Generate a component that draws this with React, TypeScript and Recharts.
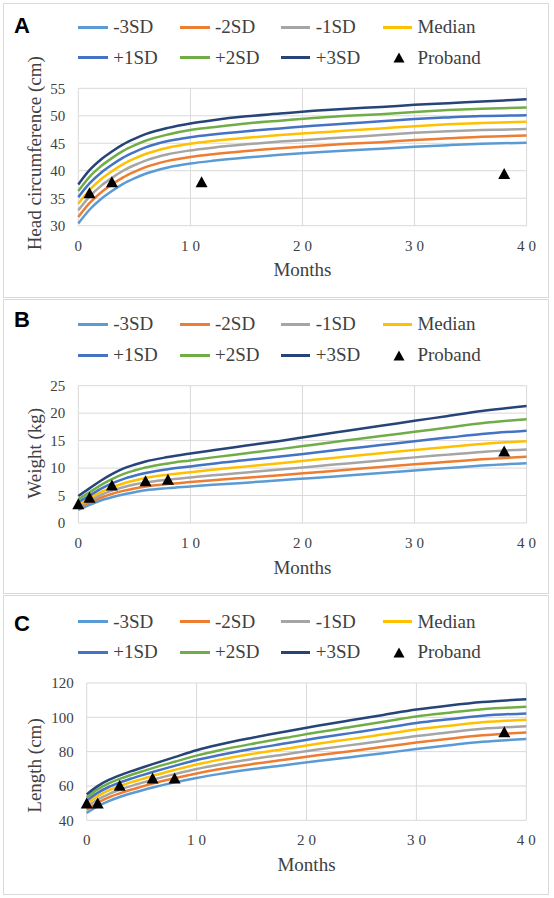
import React from "react";
import {
  ComposedChart,
  Line,
  Scatter,
  XAxis,
  YAxis,
  CartesianGrid,
  Legend,
  Label,
} from "recharts";

const SERIF = '"Liberation Serif", "Times New Roman", serif';
const SANS = '"Liberation Sans", Arial, sans-serif';
const TEXT = "#404040";
const GRID = "#D9D9D9";

// shared x values (months) for the reference curves
const MONTHS = [0, 1, 2, 3, 4, 5, 6, 8, 10, 12, 15, 18, 21, 24, 27, 30, 33, 36, 40];
const X_TICKS = [0, 10, 20, 30, 40];

const SD_NAMES = ["-3SD", "-2SD", "-1SD", "Median", "+1SD", "+2SD", "+3SD"];
const SD_COLORS = ["#5B9BD5", "#ED7D31", "#A5A5A5", "#FFC000", "#4472C4", "#70AD47", "#264478"];

// A: head circumference (cm)
const HC_NEG3 = [30.4, 32.9, 34.8, 36.3, 37.6, 38.6, 39.45, 40.6, 41.3, 41.8, 42.4, 42.9, 43.3, 43.7, 44.0, 44.35, 44.65, 44.9, 45.1];
const HC_NEG2 = [31.6, 34.1, 36.0, 37.5, 38.8, 39.8, 40.65, 41.8, 42.5, 43.0, 43.6, 44.1, 44.5, 44.9, 45.2, 45.6, 45.9, 46.2, 46.4];
const HC_NEG1 = [32.8, 35.3, 37.2, 38.7, 40.0, 41.0, 41.85, 43.0, 43.7, 44.2, 44.8, 45.3, 45.7, 46.1, 46.5, 46.9, 47.2, 47.4, 47.6];
const HC_MED = [34.0, 36.5, 38.4, 39.9, 41.2, 42.2, 43.05, 44.2, 44.9, 45.4, 46.0, 46.5, 46.9, 47.3, 47.7, 48.1, 48.45, 48.7, 48.9];
const HC_POS1 = [35.2, 37.7, 39.6, 41.1, 42.4, 43.4, 44.25, 45.4, 46.1, 46.6, 47.2, 47.7, 48.2, 48.6, 49.0, 49.4, 49.7, 49.95, 50.1];
const HC_POS2 = [36.3, 38.9, 40.8, 42.3, 43.6, 44.6, 45.45, 46.6, 47.4, 47.9, 48.6, 49.1, 49.6, 50.0, 50.3, 50.7, 51.05, 51.3, 51.5];
const HC_POS3 = [37.5, 40.1, 42.0, 43.5, 44.8, 45.8, 46.65, 47.8, 48.6, 49.2, 49.9, 50.4, 50.9, 51.3, 51.6, 52.0, 52.3, 52.6, 53.0];
const HC_TICKS = [30, 35, 40, 45, 50, 55];
const HC_PROBAND_MONTHS = [1, 3, 11, 38];
const HC_PROBAND = [36.0, 38.0, 38.0, 39.5];

// B: weight (kg)
const WT_NEG3 = [2.4, 3.3, 4.1, 4.7, 5.2, 5.6, 5.95, 6.35, 6.65, 6.95, 7.35, 7.8, 8.2, 8.65, 9.1, 9.55, 10.0, 10.45, 10.9];
const WT_NEG2 = [2.7, 3.7, 4.6, 5.3, 5.85, 6.3, 6.65, 7.1, 7.45, 7.8, 8.25, 8.7, 9.2, 9.7, 10.2, 10.7, 11.15, 11.6, 12.05];
const WT_NEG1 = [3.0, 4.1, 5.1, 5.9, 6.5, 7.0, 7.4, 7.9, 8.3, 8.7, 9.2, 9.75, 10.3, 10.85, 11.4, 11.95, 12.45, 12.95, 13.4];
const WT_MED = [3.3, 4.5, 5.6, 6.5, 7.2, 7.75, 8.2, 8.8, 9.25, 9.7, 10.3, 10.9, 11.5, 12.1, 12.7, 13.3, 13.85, 14.4, 14.9];
const WT_POS1 = [3.8, 5.0, 6.2, 7.2, 8.0, 8.6, 9.1, 9.8, 10.3, 10.8, 11.45, 12.1, 12.8, 13.5, 14.2, 14.9, 15.55, 16.2, 16.8];
const WT_POS2 = [4.3, 5.6, 6.9, 8.0, 8.9, 9.55, 10.1, 10.85, 11.4, 11.95, 12.7, 13.45, 14.25, 15.05, 15.85, 16.6, 17.4, 18.15, 18.9];
const WT_POS3 = [4.9, 6.3, 7.7, 8.9, 9.9, 10.6, 11.2, 12.0, 12.65, 13.25, 14.1, 14.95, 15.9, 16.8, 17.7, 18.6, 19.5, 20.4, 21.3];
const WT_TICKS = [0, 5, 10, 15, 20, 25];
const WT_PROBAND_MONTHS = [0, 1, 3, 6, 8, 38];
const WT_PROBAND = [3.5, 4.7, 6.9, 7.7, 7.95, 13.1];

// C: length (cm)
const LN_NEG3 = [44.3, 48.2, 51.2, 53.6, 55.6, 57.4, 59.1, 62.1, 64.7, 66.9, 69.7, 72.1, 74.5, 76.8, 79.1, 81.5, 83.7, 85.7, 87.3];
const LN_NEG2 = [46.1, 50.2, 53.3, 55.7, 57.8, 59.6, 61.4, 64.5, 67.3, 69.7, 72.7, 75.3, 77.9, 80.3, 82.8, 85.3, 87.5, 89.5, 91.1];
const LN_NEG1 = [47.9, 52.1, 55.3, 57.8, 59.9, 61.8, 63.6, 66.9, 69.9, 72.4, 75.6, 78.4, 81.2, 83.8, 86.4, 89.1, 91.3, 93.3, 94.8];
const LN_MED = [49.7, 54.1, 57.4, 59.9, 62.1, 64.0, 65.9, 69.3, 72.5, 75.2, 78.6, 81.6, 84.6, 87.3, 90.1, 92.9, 95.1, 97.1, 98.6];
const LN_POS1 = [51.5, 56.0, 59.4, 62.0, 64.2, 66.2, 68.1, 71.7, 75.1, 77.9, 81.5, 84.7, 87.9, 90.8, 93.7, 96.7, 98.9, 100.9, 102.3];
const LN_POS2 = [53.3, 58.0, 61.5, 64.1, 66.4, 68.4, 70.4, 74.1, 77.7, 80.7, 84.5, 87.9, 91.3, 94.3, 97.4, 100.5, 102.7, 104.7, 106.1];
const LN_POS3 = [55.1, 59.9, 63.5, 66.2, 68.5, 70.6, 72.7, 76.8, 80.8, 84.0, 88.0, 91.6, 95.1, 98.3, 101.4, 104.5, 106.9, 108.9, 110.5];
const LN_TICKS = [40, 60, 80, 100, 120];
const LN_PROBAND_MONTHS = [0, 1, 3, 6, 8, 38];
const LN_PROBAND = [50.1, 50.1, 60.4, 64.6, 64.6, 91.6];

const CHART_W = 544;
const OX = 4;
const LEGEND_COLS = [78.4, 180.2, 280.9, 382.6];

function buildRows(curves: number[][]) {
  return MONTHS.map((m, i) => {
    const row: Record<string, number> = { m };
    curves.forEach((c, k) => {
      row["s" + k] = c[i];
    });
    return row;
  });
}

function buildPoints(months: number[], values: number[]) {
  return months.map((m, i) => ({ m, v: values[i] }));
}

function TriangleMarker(props: any) {
  const { cx, cy } = props;
  if (cx == null || cy == null) return null;
  return (
    <polygon
      points={`${cx},${cy - 5.5} ${cx + 6},${cy + 5.5} ${cx - 6},${cy + 5.5}`}
      fill="#000"
    />
  );
}

function XTick(props: any) {
  const { x, y, payload } = props;
  return (
    <text
      x={x + 2}
      y={y + 20}
      textAnchor="middle"
      dominantBaseline="central"
      style={{ fontFamily: SERIF, fontSize: 15, fill: TEXT, letterSpacing: 4 }}
    >
      {payload.value}
    </text>
  );
}

interface PanelProps {
  top: number;
  height: number;
  letter: string;
  letterY: number;
  legendY: number[];
  plot: { left: number; right: number; top: number; bottom: number };
  yDomain: [number, number];
  yTicks: number[];
  yLabel: string;
  yLabelY: number;
  curves: number[][];
  probandMonths: number[];
  probandValues: number[];
}

function GrowthPanel({
  top,
  height,
  letter,
  letterY,
  legendY,
  plot,
  yDomain,
  yTicks,
  yLabel,
  yLabelY,
  curves,
  probandMonths,
  probandValues,
}: PanelProps) {
  const oy = top + 1;
  const chartH = height - 2;
  const xAxisH = 30;
  const rows = buildRows(curves);
  const points = buildPoints(probandMonths, probandValues);

  const renderLegend = () => (
    <div style={{ position: "relative", width: CHART_W, height: 0 }}>
      {[...SD_NAMES, "Proband"].map((name, i) => {
        const colX = LEGEND_COLS[i % 4] - OX;
        const rowY = legendY[Math.floor(i / 4)] - oy;
        return (
          <React.Fragment key={name}>
            {i < 7 ? (
              <div
                style={{
                  position: "absolute",
                  left: colX,
                  top: rowY - 1.5,
                  width: 29.5,
                  height: 3,
                  background: SD_COLORS[i],
                }}
              />
            ) : (
              <svg
                width={12}
                height={11}
                style={{ position: "absolute", left: colX + 10, top: rowY - 5.5 }}
              >
                <polygon points="6,0.5 11.5,10.5 0.5,10.5" fill="#000" />
              </svg>
            )}
            <span
              style={{
                position: "absolute",
                left: colX + 34.8,
                top: rowY - 10,
                fontFamily: SERIF,
                fontSize: 19,
                lineHeight: "19px",
                color: TEXT,
                whiteSpace: "nowrap",
              }}
            >
              {name}
            </span>
          </React.Fragment>
        );
      })}
    </div>
  );

  return (
    <div
      style={{
        position: "absolute",
        left: 3,
        top,
        width: 546,
        height,
        border: `1px solid ${GRID}`,
        boxSizing: "border-box",
      }}
    >
      <div
        style={{
          position: "absolute",
          left: 14 - OX,
          top: letterY - oy - 11,
          fontFamily: SANS,
          fontWeight: 700,
          fontSize: 22,
          lineHeight: "22px",
          color: "#000",
        }}
      >
        {letter}
      </div>
      <ComposedChart
        width={CHART_W}
        height={chartH}
        data={rows}
        margin={{
          top: plot.top - oy,
          right: OX + CHART_W - plot.right,
          left: 0,
          bottom: oy + chartH - plot.bottom - xAxisH,
        }}
        style={{ position: "absolute", left: 0, top: 0 }}
      >
        <CartesianGrid stroke={GRID} strokeWidth={1} />
        <XAxis
          dataKey="m"
          type="number"
          domain={[0, 40]}
          ticks={X_TICKS}
          interval={0}
          height={xAxisH}
          axisLine={false}
          tickLine={false}
          tickSize={0}
          tickMargin={0}
          tick={<XTick />}
        >
          <Label
            content={() => (
              <text
                x={(plot.left + plot.right) / 2 - OX}
                y={plot.bottom + 44 - oy}
                textAnchor="middle"
                dominantBaseline="central"
                style={{ fontFamily: SERIF, fontSize: 19, fill: TEXT }}
              >
                Months
              </text>
            )}
          />
        </XAxis>
        <YAxis
          type="number"
          domain={yDomain}
          ticks={yTicks}
          interval={0}
          width={plot.left - OX}
          axisLine={false}
          tickLine={false}
          tickSize={0}
          tickMargin={13}
          tick={{ fontFamily: SERIF, fontSize: 15, fill: TEXT }}
        >
          <Label
            content={() => (
              <text
                transform={`translate(${34.5 - OX},${yLabelY - oy}) rotate(-90)`}
                textAnchor="middle"
                dominantBaseline="central"
                style={{ fontFamily: SERIF, fontSize: 19, fill: TEXT }}
              >
                {yLabel}
              </text>
            )}
          />
        </YAxis>
        <Legend
          content={renderLegend}
          wrapperStyle={{ left: 0, top: 0, width: CHART_W, height: 0 }}
        />
        {SD_NAMES.map((name, k) => (
          <Line
            key={name}
            type="monotone"
            dataKey={"s" + k}
            name={name}
            stroke={SD_COLORS[k]}
            strokeWidth={2.5}
            dot={false}
            activeDot={false}
            isAnimationActive={false}
          />
        ))}
        <Scatter
          name="Proband"
          data={points}
          dataKey="v"
          fill="#000"
          shape={<TriangleMarker />}
          isAnimationActive={false}
        />
      </ComposedChart>
    </div>
  );
}

export default function App() {
  return (
    <div
      style={{
        position: "absolute",
        left: 0,
        top: 0,
        width: 554,
        height: 898,
        background: "#fff",
      }}
    >
      <GrowthPanel
        top={3}
        height={295}
        letter="A"
        letterY={25.7}
        legendY={[27.3, 57.7]}
        plot={{ left: 78.3, right: 526.6, top: 88.3, bottom: 225.7 }}
        yDomain={[30, 55]}
        yTicks={HC_TICKS}
        yLabel="Head circumference (cm)"
        yLabelY={153.3}
        curves={[HC_NEG3, HC_NEG2, HC_NEG1, HC_MED, HC_POS1, HC_POS2, HC_POS3]}
        probandMonths={HC_PROBAND_MONTHS}
        probandValues={HC_PROBAND}
      />
      <GrowthPanel
        top={299}
        height={295}
        letter="B"
        letterY={320}
        legendY={[324.3, 355]}
        plot={{ left: 78.3, right: 526.6, top: 385.7, bottom: 523 }}
        yDomain={[0, 25]}
        yTicks={WT_TICKS}
        yLabel="Weight (kg)"
        yLabelY={453.3}
        curves={[WT_NEG3, WT_NEG2, WT_NEG1, WT_MED, WT_POS1, WT_POS2, WT_POS3]}
        probandMonths={WT_PROBAND_MONTHS}
        probandValues={WT_PROBAND}
      />
      <GrowthPanel
        top={595}
        height={300}
        letter="C"
        letterY={624}
        legendY={[621.7, 652]}
        plot={{ left: 86.7, right: 526.3, top: 683, bottom: 820.3 }}
        yDomain={[40, 120]}
        yTicks={LN_TICKS}
        yLabel="Length (cm)"
        yLabelY={765.5}
        curves={[LN_NEG3, LN_NEG2, LN_NEG1, LN_MED, LN_POS1, LN_POS2, LN_POS3]}
        probandMonths={LN_PROBAND_MONTHS}
        probandValues={LN_PROBAND}
      />
    </div>
  );
}
